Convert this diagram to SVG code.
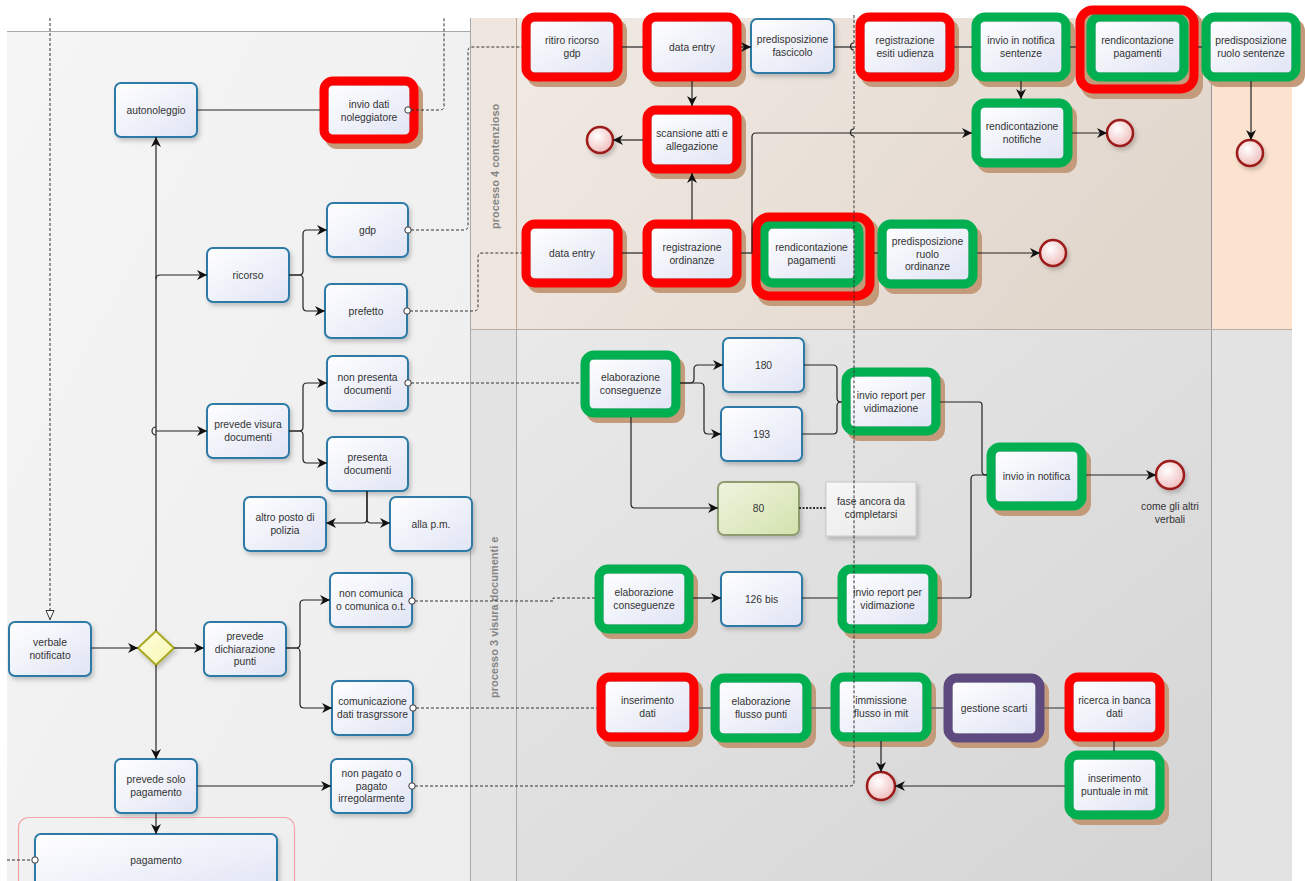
<svg xmlns="http://www.w3.org/2000/svg" width="1305" height="881" viewBox="0 0 1305 881">
<defs>
<linearGradient id="gTask" x1="0" y1="0" x2="1" y2="1"><stop offset="0" stop-color="#ffffff"/><stop offset="1" stop-color="#e0e4f4"/></linearGradient>
<linearGradient id="g80" x1="0" y1="0" x2="1" y2="1"><stop offset="0" stop-color="#eff4df"/><stop offset="1" stop-color="#d3e2ad"/></linearGradient>
<linearGradient id="gGw" x1="0" y1="0" x2="1" y2="1"><stop offset="0" stop-color="#ffffe0"/><stop offset="1" stop-color="#f6f6b0"/></linearGradient>
<radialGradient id="gEnd" cx="0.4" cy="0.35" r="0.75"><stop offset="0" stop-color="#ffffff"/><stop offset="1" stop-color="#eeb4b4"/></radialGradient>
<linearGradient id="gLeft" x1="0" y1="0" x2="1" y2="1"><stop offset="0" stop-color="#f5f5f5"/><stop offset="1" stop-color="#ededed"/></linearGradient>
<linearGradient id="gTop" x1="0" y1="0" x2="1" y2="0.4"><stop offset="0" stop-color="#f1ebe5"/><stop offset="1" stop-color="#e2d7cd"/></linearGradient>
<linearGradient id="gLow" x1="0" y1="0" x2="1" y2="1"><stop offset="0" stop-color="#e9e9e9"/><stop offset="1" stop-color="#d4d4d4"/></linearGradient>
<linearGradient id="gAnn" x1="0" y1="0" x2="1" y2="1"><stop offset="0" stop-color="#f7f7f7"/><stop offset="1" stop-color="#e8e8e8"/></linearGradient>
<filter id="ds" x="-20%" y="-20%" width="150%" height="150%"><feDropShadow dx="2" dy="3" stdDeviation="2" flood-color="#000" flood-opacity="0.2"/></filter>
<marker id="arr" viewBox="0 0 10 10" refX="10" refY="5" markerWidth="10" markerHeight="10" markerUnits="userSpaceOnUse" orient="auto"><path d="M0,0 L10,5 L0,10 L3,5 z" fill="#111"/></marker>
<marker id="opn" viewBox="0 0 10 10" refX="10" refY="5" markerWidth="10" markerHeight="10" markerUnits="userSpaceOnUse" orient="auto"><path d="M0.5,1 L9.5,5 L0.5,9 z" fill="#fff" stroke="#333" stroke-width="1"/></marker>
<style>
.task{fill:url(#gTask);stroke:#2f7aa6;stroke-width:2;filter:url(#ds)}
.tin{fill:url(#gTask);stroke:#7d95a5;stroke-width:1}
.sh{fill:#c39b7b}
.fr{fill:none;stroke-width:9}
.red{stroke:#ff0000}
.grn{stroke:#00b050}
.pur{stroke:#5e4a7e}
.t{font-family:"Liberation Sans",Arial,sans-serif;font-size:10.3px;fill:#333;text-anchor:middle}
.lane{font-family:"Liberation Sans",Arial,sans-serif;font-size:11px;font-weight:bold;fill:#858585}
.c{fill:none;stroke:#222;stroke-width:1.2}
.g{fill:none;stroke:#666;stroke-width:1.5}
.ca{marker-end:url(#arr)}
.d{fill:none;stroke:#333;stroke-width:1;stroke-dasharray:3 2}
.mc{fill:#fff;stroke:#333;stroke-width:1}
.end{fill:url(#gEnd);stroke:#9c1a1a;stroke-width:2.5;filter:url(#ds)}
</style>
</defs>

<g id="background">
<rect x="0" y="0" width="1305" height="881" fill="#ffffff"/>
<rect x="7" y="31" width="463" height="850" fill="url(#gLeft)"/>
<rect x="470" y="18" width="46" height="311" fill="#efe7df"/>
<rect x="516" y="18" width="695" height="311" fill="url(#gTop)"/>
<rect x="1211" y="18" width="81" height="311" fill="#fbe3cf"/>
<rect x="470" y="329" width="46" height="552" fill="#e3e3e3"/>
<rect x="516" y="329" width="695" height="552" fill="url(#gLow)"/>
<rect x="1211" y="329" width="81" height="552" fill="#e3e3e3"/>
<line x1="7" y1="31.5" x2="470" y2="31.5" stroke="#a8a8a8" stroke-width="1.2"/>
<line x1="470.5" y1="18" x2="470.5" y2="881" stroke="#a8a8a8" stroke-width="1"/>
<line x1="516.5" y1="18" x2="516.5" y2="329" stroke="#c2a68e" stroke-width="1"/>
<line x1="516.5" y1="329" x2="516.5" y2="881" stroke="#a8a8a8" stroke-width="1"/>
<line x1="1211.5" y1="18" x2="1211.5" y2="881" stroke="#9a9a9a" stroke-width="1"/>
<line x1="470" y1="329.5" x2="1292" y2="329.5" stroke="#b8b0a8" stroke-width="1.2"/>
<text class="lane" transform="translate(499,229) rotate(-90)">processo 4 contenzioso</text>
<text class="lane" transform="translate(498,698) rotate(-90)">processo 3 visura documenti e</text>
</g>

<g id="nodes">
<!-- left region -->
<g id="n-autonoleggio"><rect class="task" x="115" y="83" width="82" height="54" rx="6"/><text class="t" x="156" y="113.5">autonoleggio</text></g>
<g id="n-invio-dati-noleggiatore"><rect class="sh" x="325" y="83" width="98" height="66" rx="12"/><rect class="tin" x="328" y="85" width="82" height="52" rx="3"/><rect class="fr red" x="324" y="81" width="90" height="58" rx="9"/><text class="t" x="369" y="107.5">invio dati</text><text class="t" x="369" y="120.5">noleggiatore</text></g>
<g id="n-ricorso"><rect class="task" x="207" y="248" width="82" height="54" rx="6"/><text class="t" x="248" y="278.5">ricorso</text></g>
<g id="n-gdp"><rect class="task" x="327" y="203" width="81" height="54" rx="6"/><text class="t" x="367.5" y="233.5">gdp</text></g>
<g id="n-prefetto"><rect class="task" x="325" y="284" width="82" height="54" rx="6"/><text class="t" x="366" y="314.5">prefetto</text></g>
<g id="n-prevede-visura"><rect class="task" x="207" y="404" width="82" height="54" rx="6"/><text class="t" x="248" y="428">prevede visura</text><text class="t" x="248" y="441">documenti</text></g>
<g id="n-non-presenta"><rect class="task" x="327" y="356" width="81" height="55" rx="6"/><text class="t" x="367.5" y="380.5">non presenta</text><text class="t" x="367.5" y="393.5">documenti</text></g>
<g id="n-presenta"><rect class="task" x="327" y="437" width="81" height="54" rx="6"/><text class="t" x="367.5" y="461">presenta</text><text class="t" x="367.5" y="474">documenti</text></g>
<g id="n-altro-posto"><rect class="task" x="244" y="497" width="82" height="54" rx="6"/><text class="t" x="285" y="521">altro posto di</text><text class="t" x="285" y="534">polizia</text></g>
<g id="n-alla-pm"><rect class="task" x="390" y="497" width="82" height="54" rx="6"/><text class="t" x="431" y="527.5">alla p.m.</text></g>
<g id="n-non-comunica"><rect class="task" x="330" y="573" width="82" height="54" rx="6"/><text class="t" x="371" y="597">non comunica</text><text class="t" x="371" y="610">o comunica o.t.</text></g>
<g id="n-verbale"><rect class="task" x="9" y="622" width="82" height="54" rx="6"/><text class="t" x="50" y="646">verbale</text><text class="t" x="50" y="659">notificato</text></g>
<g id="n-gateway"><polygon points="156,631 174,648 156,665 138,648" fill="url(#gGw)" stroke="#a9a925" stroke-width="2" filter="url(#ds)"/></g>
<g id="n-prevede-dichiarazione"><rect class="task" x="204" y="622" width="82" height="54" rx="6"/><text class="t" x="245" y="640">prevede</text><text class="t" x="245" y="652.5">dichiarazione</text><text class="t" x="245" y="665">punti</text></g>
<g id="n-comunicazione"><rect class="task" x="332" y="681" width="81" height="54" rx="6"/><text class="t" x="372.5" y="705">comunicazione</text><text class="t" x="372.5" y="718">dati trasgrssore</text></g>
<g id="n-prevede-solo"><rect class="task" x="115" y="759" width="82" height="54" rx="6"/><text class="t" x="156" y="783">prevede solo</text><text class="t" x="156" y="796">pagamento</text></g>
<g id="n-non-pagato"><rect class="task" x="331" y="759" width="81" height="54" rx="6"/><text class="t" x="371.5" y="777">non pagato o</text><text class="t" x="371.5" y="789.5">pagato</text><text class="t" x="371.5" y="802">irregolarmente</text></g>
<g id="n-pagamento-group"><rect x="18.5" y="817.5" width="276" height="80" rx="10" fill="none" stroke="#f2a4a4" stroke-width="1.2"/></g>
<g id="n-pagamento"><rect class="task" x="35" y="834" width="242" height="60" rx="6"/><text class="t" x="156" y="863.5">pagamento</text></g>

<!-- processo 4 contenzioso -->
<g id="n-ritiro-ricorso"><rect class="sh" x="527" y="19" width="100" height="68" rx="12"/><rect class="tin" x="530" y="21" width="84" height="52" rx="3"/><rect class="fr red" x="526" y="17" width="92" height="60" rx="9"/><text class="t" x="572" y="44">ritiro ricorso</text><text class="t" x="572" y="57">gdp</text></g>
<g id="n-data-entry-1"><rect class="sh" x="648" y="19" width="98" height="68" rx="12"/><rect class="tin" x="651" y="21" width="82" height="52" rx="3"/><rect class="fr red" x="647" y="17" width="90" height="60" rx="9"/><text class="t" x="692" y="50.5">data entry</text></g>
<g id="n-predisposizione-fascicolo"><rect class="task" x="751" y="19" width="83" height="54" rx="6"/><text class="t" x="792.5" y="43">predisposizione</text><text class="t" x="792.5" y="56">fascicolo</text></g>
<g id="n-registrazione-esiti"><rect class="sh" x="861" y="19" width="98" height="68" rx="12"/><rect class="tin" x="864" y="21" width="82" height="52" rx="3"/><rect class="fr red" x="860" y="17" width="90" height="60" rx="9"/><text class="t" x="905" y="44">registrazione</text><text class="t" x="905" y="57">esiti udienza</text></g>
<g id="n-invio-notifica-sentenze"><rect class="sh" x="977" y="19" width="98" height="68" rx="12"/><rect class="tin" x="980" y="21" width="82" height="52" rx="3"/><rect class="fr grn" x="976" y="17" width="90" height="60" rx="9"/><text class="t" x="1021" y="44">invio in notifica</text><text class="t" x="1021" y="57">sentenze</text></g>
<g id="n-rendicontazione-pagamenti-1"><rect class="sh" x="1081" y="12" width="122" height="87" rx="14"/><rect class="tin" x="1095" y="21" width="85" height="52" rx="3"/><rect class="fr grn" x="1091" y="17" width="93" height="60" rx="9"/><rect class="fr red" x="1080" y="10" width="114" height="79" rx="13"/><text class="t" x="1137.5" y="44">rendicontazione</text><text class="t" x="1137.5" y="57">pagamenti</text></g>
<g id="n-predisposizione-ruolo-sentenze"><rect class="sh" x="1207" y="19" width="98" height="68" rx="12"/><rect class="tin" x="1210" y="21" width="82" height="52" rx="3"/><rect class="fr grn" x="1206" y="17" width="90" height="60" rx="9"/><text class="t" x="1251" y="44">predisposizione</text><text class="t" x="1251" y="57">ruolo sentenze</text></g>
<g id="n-scansione"><rect class="sh" x="648" y="112" width="98" height="67" rx="12"/><rect class="tin" x="651" y="114" width="82" height="51" rx="3"/><rect class="fr red" x="647" y="110" width="90" height="59" rx="9"/><text class="t" x="692" y="136.5">scansione atti e</text><text class="t" x="692" y="149.5">allegazione</text></g>
<g id="n-end-scansione"><circle class="end" cx="600" cy="140" r="13"/></g>
<g id="n-rendicontazione-notifiche"><rect class="sh" x="977" y="105" width="100" height="68" rx="12"/><rect class="tin" x="980" y="107" width="84" height="52" rx="3"/><rect class="fr grn" x="976" y="103" width="92" height="60" rx="9"/><text class="t" x="1022" y="130">rendicontazione</text><text class="t" x="1022" y="143">notifiche</text></g>
<g id="n-end-notifiche"><circle class="end" cx="1120" cy="133" r="13"/></g>
<g id="n-end-sentenze"><circle class="end" cx="1250" cy="153" r="13"/></g>
<g id="n-data-entry-2"><rect class="sh" x="527" y="226" width="100" height="67" rx="12"/><rect class="tin" x="530" y="228" width="84" height="51" rx="3"/><rect class="fr red" x="526" y="224" width="92" height="59" rx="9"/><text class="t" x="572" y="257">data entry</text></g>
<g id="n-registrazione-ordinanze"><rect class="sh" x="648" y="226" width="98" height="67" rx="12"/><rect class="tin" x="651" y="228" width="82" height="51" rx="3"/><rect class="fr red" x="647" y="224" width="90" height="59" rx="9"/><text class="t" x="692" y="250.5">registrazione</text><text class="t" x="692" y="263.5">ordinanze</text></g>
<g id="n-rendicontazione-pagamenti-2"><rect class="sh" x="757" y="219" width="122" height="87" rx="14"/><rect class="tin" x="767" y="228" width="87" height="51" rx="3"/><rect class="fr grn" x="764" y="224" width="95" height="59" rx="9"/><rect class="fr red" x="756" y="217" width="114" height="79" rx="13"/><text class="t" x="811.5" y="250.5">rendicontazione</text><text class="t" x="811.5" y="263.5">pagamenti</text></g>
<g id="n-predisposizione-ruolo-ordinanze"><rect class="sh" x="883" y="226" width="99" height="68" rx="12"/><rect class="tin" x="886" y="228" width="83" height="52" rx="3"/><rect class="fr grn" x="882" y="224" width="91" height="60" rx="9"/><text class="t" x="927.5" y="245">predisposizione</text><text class="t" x="927.5" y="257.5">ruolo</text><text class="t" x="927.5" y="270">ordinanze</text></g>
<g id="n-end-ordinanze"><circle class="end" cx="1053" cy="253" r="13"/></g>

<!-- processo 3 visura documenti -->
<g id="n-elaborazione-conseguenze-1"><rect class="sh" x="586" y="357" width="99" height="66" rx="12"/><rect class="tin" x="589" y="359" width="83" height="50" rx="3"/><rect class="fr grn" x="585" y="355" width="91" height="58" rx="9"/><text class="t" x="630.5" y="381">elaborazione</text><text class="t" x="630.5" y="394">conseguenze</text></g>
<g id="n-180"><rect class="task" x="723" y="338" width="81" height="54" rx="6"/><text class="t" x="763.5" y="368.5">180</text></g>
<g id="n-193"><rect class="task" x="721" y="407" width="81" height="54" rx="6"/><text class="t" x="761.5" y="437.5">193</text></g>
<g id="n-invio-report-1"><rect class="sh" x="847" y="374" width="98" height="67" rx="12"/><rect class="tin" x="850" y="376" width="82" height="51" rx="3"/><rect class="fr grn" x="846" y="372" width="90" height="59" rx="9"/><text class="t" x="891" y="398.5">invio report per</text><text class="t" x="891" y="411.5">vidimazione</text></g>
<g id="n-80"><rect x="718" y="482" width="81" height="53" rx="6" fill="url(#g80)" stroke="#8e9c70" stroke-width="2" filter="url(#ds)"/><text class="t" x="758.5" y="512">80</text></g>
<g id="n-annotazione"><rect x="826" y="482" width="90" height="54" fill="url(#gAnn)" stroke="#c8c8c8" stroke-width="1" filter="url(#ds)"/><text class="t" x="871" y="505">fase ancora da</text><text class="t" x="871" y="518">completarsi</text></g>
<g id="n-invio-in-notifica"><rect class="sh" x="992" y="449" width="99" height="67" rx="12"/><rect class="tin" x="995" y="451" width="83" height="51" rx="3"/><rect class="fr grn" x="991" y="447" width="91" height="59" rx="9"/><text class="t" x="1036.5" y="480">invio in notifica</text></g>
<g id="n-end-come-altri"><circle class="end" cx="1170" cy="475" r="14"/><text class="t" x="1170" y="509.5">come gli altri</text><text class="t" x="1170" y="522.5">verbali</text></g>
<g id="n-elaborazione-conseguenze-2"><rect class="sh" x="600" y="571" width="98" height="68" rx="12"/><rect class="tin" x="603" y="573" width="82" height="52" rx="3"/><rect class="fr grn" x="599" y="569" width="90" height="60" rx="9"/><text class="t" x="644" y="596">elaborazione</text><text class="t" x="644" y="609">conseguenze</text></g>
<g id="n-126bis"><rect class="task" x="721" y="572" width="81" height="54" rx="6"/><text class="t" x="761.5" y="602.5">126 bis</text></g>
<g id="n-invio-report-2"><rect class="sh" x="843" y="571" width="99" height="68" rx="12"/><rect class="tin" x="846" y="573" width="83" height="52" rx="3"/><rect class="fr grn" x="842" y="569" width="91" height="60" rx="9"/><text class="t" x="887.5" y="596">invio report per</text><text class="t" x="887.5" y="609">vidimazione</text></g>
<g id="n-inserimento-dati"><rect class="sh" x="602" y="679" width="101" height="68" rx="12"/><rect class="tin" x="605" y="681" width="85" height="52" rx="3"/><rect class="fr red" x="601" y="677" width="93" height="60" rx="9"/><text class="t" x="647.5" y="704">inserimento</text><text class="t" x="647.5" y="717">dati</text></g>
<g id="n-elaborazione-flusso"><rect class="sh" x="716" y="680" width="100" height="68" rx="12"/><rect class="tin" x="719" y="682" width="84" height="52" rx="3"/><rect class="fr grn" x="715" y="678" width="92" height="60" rx="9"/><text class="t" x="761" y="705">elaborazione</text><text class="t" x="761" y="718">flusso punti</text></g>
<g id="n-immissione-flusso"><rect class="sh" x="836" y="679" width="100" height="68" rx="12"/><rect class="tin" x="839" y="681" width="84" height="52" rx="3"/><rect class="fr grn" x="835" y="677" width="92" height="60" rx="9"/><text class="t" x="881" y="704">immissione</text><text class="t" x="881" y="717">flusso in mit</text></g>
<g id="n-gestione-scarti"><rect class="sh" x="949" y="680" width="100" height="68" rx="12"/><rect class="tin" x="952" y="682" width="84" height="52" rx="3"/><rect class="fr pur" x="948" y="678" width="92" height="60" rx="9"/><text class="t" x="994" y="711.5">gestione scarti</text></g>
<g id="n-ricerca-banca-dati"><rect class="sh" x="1070" y="679" width="99" height="68" rx="12"/><rect class="tin" x="1073" y="681" width="83" height="52" rx="3"/><rect class="fr red" x="1069" y="677" width="91" height="60" rx="9"/><text class="t" x="1114.5" y="704">ricerca in banca</text><text class="t" x="1114.5" y="717">dati</text></g>
<g id="n-inserimento-puntuale"><rect class="sh" x="1070" y="757" width="99" height="68" rx="12"/><rect class="tin" x="1073" y="759" width="83" height="52" rx="3"/><rect class="fr grn" x="1069" y="755" width="91" height="60" rx="9"/><text class="t" x="1114.5" y="782">inserimento</text><text class="t" x="1114.5" y="795">puntuale in mit</text></g>
<g id="n-end-punti"><circle class="end" cx="881" cy="786" r="14"/></g>
</g>

<g id="connectors">
<!-- left region sequence flows -->
<path class="c ca" d="M156,631 V137"/>
<path class="c ca" d="M156,279 Q156,275 160,275 H207"/>
<path class="c" d="M156,427 a4,4 0 0 0 0,8"/>
<path class="c ca" d="M156,431 H207"/>
<path class="c" d="M197,110 H320"/>
<path class="c ca" d="M289,275 H299 Q303,275 303,271 V234 Q303,230 307,230 H327"/>
<path class="c ca" d="M289,275 H299 Q303,275 303,279 V307 Q303,311 307,311 H325"/>
<path class="c ca" d="M289,431 H299 Q303,431 303,427 V387 Q303,383 307,383 H327"/>
<path class="c ca" d="M289,431 H299 Q303,431 303,435 V459 Q303,463 307,463 H327"/>
<path class="c ca" d="M367,491 V519 Q367,523 363,523 H326"/>
<path class="c ca" d="M367,491 V519 Q367,523 371,523 H390"/>
<path class="c ca" d="M91,648 H138"/>
<path class="c ca" d="M174,648 H204"/>
<path class="c ca" d="M286,648 H296 Q300,648 300,644 V604 Q300,600 304,600 H330"/>
<path class="c ca" d="M286,648 H296 Q300,648 300,652 V704 Q300,708 304,708 H332"/>
<path class="c ca" d="M156,665 V759"/>
<path class="c ca" d="M197,786 H331"/>
<path class="c ca" d="M156,813 V834"/>
<!-- left message flows -->
<path class="d" d="M50,18 V620" marker-end="url(#opn)"/>
<path class="d" d="M7,860 H32"/>
<circle class="mc" cx="35" cy="860" r="3.2"/>
<path class="d" d="M411,110 H440 Q444,110 444,106 V18"/>
<circle class="mc" cx="408" cy="110" r="3.2"/>
<path class="d" d="M411,230 H464 Q468,230 468,226 V51 Q468,47 472,47 H522"/>
<circle class="mc" cx="408" cy="230" r="3.2"/>
<path class="d" d="M410,311 H474 Q478,311 478,307 V257 Q478,253 482,253 H522"/>
<circle class="mc" cx="407" cy="311" r="3.2"/>
<path class="d" d="M411,383 H581"/>
<circle class="mc" cx="408" cy="383" r="3.2"/>
<path class="d" d="M415,601 H553 V598 H595"/>
<circle class="mc" cx="412" cy="601" r="3.2"/>
<path class="d" d="M416,708 H597"/>
<circle class="mc" cx="413" cy="708" r="3.2"/>
<path class="d" d="M415,786 H850 Q854,786 854,782 V136 M854,129 V50 M854,43 V14"/>
<path class="c" d="M854,129 a3.5,3.5 0 0 0 0,7"/>
<path class="c" d="M854,43 a3.5,3.5 0 0 0 0,7"/>
<circle class="mc" cx="412" cy="786" r="3.2"/>
<!-- processo 4 flows -->
<path class="c" d="M622,47 H643"/>
<path class="c ca" d="M741,47 H751"/>
<path class="c" d="M834,47 H856"/>
<path class="c" d="M954,47 H972"/>
<path class="c" d="M1070,47 H1076"/>
<path class="c" d="M1198,47 H1202"/>
<path class="c ca" d="M1021,81 V99"/>
<path class="c ca" d="M692,81 V106"/>
<path class="c ca" d="M692,220 V173"/>
<path class="c ca" d="M643,140 H613"/>
<path class="c ca" d="M1072,133 H1107"/>
<path class="c ca" d="M1251,81 V140"/>
<path class="c" d="M622,253 H643"/>
<path class="c" d="M741,253 H752"/>
<path class="c" d="M874,253 H878"/>
<path class="c ca" d="M977,253 H1040"/>
<path class="c ca" d="M752,253 V137 Q752,133 756,133 H972"/>
<!-- processo 3 flows -->
<path class="c ca" d="M680,383 H690 Q694,383 694,379 V369 Q694,365 698,365 H723"/>
<path class="c ca" d="M680,383 H700 Q704,383 704,387 V430 Q704,434 708,434 H721"/>
<path class="c ca" d="M631,417 V504 Q631,508 635,508 H718"/>
<path class="c" d="M804,365 H833 Q837,365 837,369 V398 Q837,402 841,402 H842"/>
<path class="c" d="M802,434 H833 Q837,434 837,430 V406 Q837,402 841,402"/>
<path class="c" d="M940,402 H979 Q982,402 982,405 V471 Q982,475 986,475 H987"/>
<path class="c" d="M937,598 H968 Q971,598 971,595 V479 Q971,475 975,475 H987"/>
<path class="c ca" d="M1086,475 H1156"/>
<path d="M799,508 H826" fill="none" stroke="#333" stroke-width="2" stroke-dasharray="2 1.5"/>
<path class="c ca" d="M693,598 H721"/>
<path class="c" d="M802,598 H838"/>
<path class="g" d="M698,708 H711"/>
<path class="g" d="M811,708 H831"/>
<path class="g" d="M931,708 H944"/>
<path class="g" d="M1044,708 H1065"/>
<path class="c ca" d="M881,741 V772"/>
<path class="c" d="M1114,741 V751"/>
<path class="c ca" d="M1065,786 H895"/>
</g>
</svg>
